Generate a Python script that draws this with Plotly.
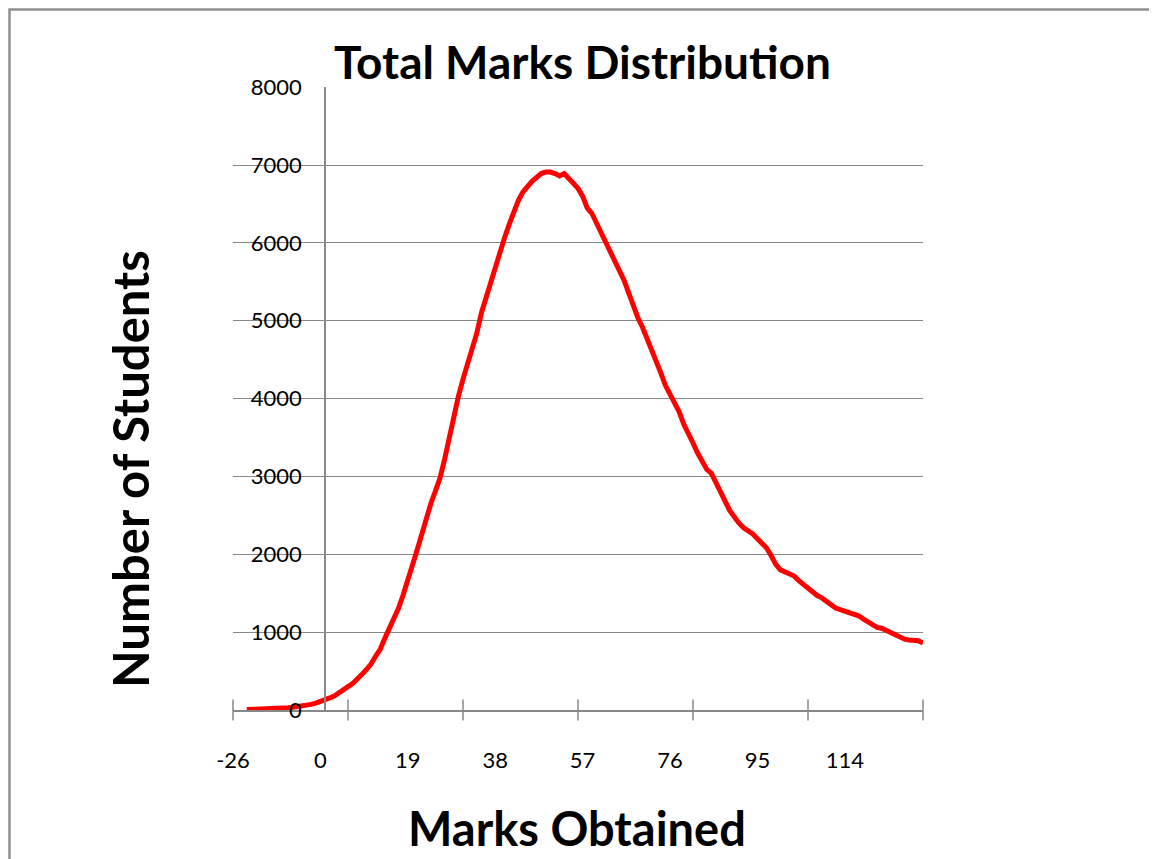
import plotly.graph_objects as go

# Category labels (Excel category axis): 19 negative marks then 0..131
neg_marks = [-26, -23, -22, -20, -18, -16, -14, -12, -11, -10, -9, -8, -7, -6, -5, -4, -3, -2, -1]
pos_marks = list(range(0, 132))
marks = [str(m) for m in neg_marks + pos_marks]

students = [
    None, None, None, 5, 6, 8, 10, 12, 15, 18,
    22, 26, 30, 36, 42, 50, 60, 72, 88, 105,
    130, 155, 180, 215, 255, 300, 340, 390, 455, 520,
    590, 690, 780, 920, 1040, 1180, 1310, 1480, 1650, 1860,
    2050, 2270, 2470, 2650, 2810, 2980, 3220, 3500, 3780, 4030,
    4250, 4440, 4620, 4840, 5100, 5300, 5500, 5680, 5880, 6060,
    6230, 6390, 6540, 6650, 6730, 6790, 6840, 6890, 6910, 6910,
    6890, 6860, 6890, 6830, 6780, 6700, 6600, 6450, 6380, 6260,
    6130, 6000, 5900, 5750, 5640, 5520, 5360, 5180, 5040, 4920,
    4780, 4650, 4490, 4330, 4170, 4050, 3940, 3830, 3670, 3530,
    3430, 3300, 3200, 3090, 3040, 2930, 2820, 2680, 2560, 2470,
    2400, 2340, 2300, 2260, 2200, 2140, 2080, 1980, 1870, 1800,
    1770, 1750, 1720, 1660, 1610, 1560, 1510, 1470, 1440, 1400,
    1350, 1310, 1290, 1270, 1260, 1240, 1210, 1170, 1130, 1090,
    1060, 1050, 1020, 990, 970, 940, 910, 900, 900, 890,
    860,
]

label_every = 19
tick_every = 25
y_ticks = [0, 1000, 2000, 3000, 4000, 5000, 6000, 7000, 8000]
y_cross_index = 20

title_text = "Total Marks Distribution"
x_title = "Marks Obtained"
y_title = "Number of Students"

OFF = 8  # page body margin
W, H = 1157 - OFF, 859 - OFF
L, R, T, B = 233 - OFF, 234, 87 - OFF, 149
pw = W - L - R
ph = H - T - B

def px_x(px):
    return (px - OFF - L) / pw

def px_y(py):
    return (H - B - (py - OFF)) / ph

FONT = "Lato, 'Open Sans', sans-serif"
GRID = "#888888"

fig = go.Figure()
fig.add_trace(go.Scatter(
    x=marks, y=students, mode="lines",
    line=dict(color="#ff0000", width=5),
    connectgaps=False, showlegend=False, hoverinfo="x+y",
))
# crossing tick marks on the category axis
fig.add_trace(go.Scatter(
    x=marks[::tick_every], y=[0] * len(marks[::tick_every]),
    mode="markers",
    marker=dict(symbol="line-ns", size=15, line=dict(color=GRID, width=1.5), color=GRID),
    cliponaxis=False, showlegend=False, hoverinfo="skip",
))

n = len(marks)
fig.update_layout(
    width=W, height=H,
    margin=dict(l=L, r=R, t=T, b=B, pad=0),
    paper_bgcolor="white", plot_bgcolor="white",
    font=dict(family=FONT, color="black", size=22),
    xaxis=dict(
        type="category",
        categoryorder="array", categoryarray=marks,
        range=[0, n - 1],
        tickmode="array",
        tickvals=marks[::label_every],
        ticktext=marks[::label_every],
        ticks="",
        ticklabelstandoff=30,
        showgrid=False, zeroline=False,
        showline=True, linecolor=GRID, linewidth=1.5,
        tickfont=dict(family=FONT, size=22, color="black"),
    ),
    yaxis=dict(
        range=[0, 8002],
        tickmode="array", tickvals=y_ticks,
        ticks="",
        anchor="free",
        position=y_cross_index / (n - 1),
        ticklabelstandoff=18,
        showgrid=True, gridcolor=GRID, gridwidth=1,
        zeroline=False,
        showline=True, linecolor=GRID, linewidth=1.5,
        tickfont=dict(family=FONT, size=22, color="black"),
    ),
    annotations=[
        dict(text=f"<b>{title_text}</b>", xref="paper", yref="paper",
             x=px_x(582), y=px_y(62), xanchor="center", yanchor="middle",
             showarrow=False, font=dict(family=FONT, size=46, color="black")),
        dict(text=f"<b>{x_title}</b>", xref="paper", yref="paper",
             x=px_x(577), y=px_y(828), xanchor="center", yanchor="middle",
             showarrow=False, font=dict(family=FONT, size=47, color="black")),
        dict(text=f"<b>{y_title}</b>", xref="paper", yref="paper",
             x=px_x(130), y=px_y(469), xanchor="center", yanchor="middle",
             textangle=-90,
             showarrow=False, font=dict(family=FONT, size=49, color="black")),
    ],
    shapes=[
        dict(type="rect", xref="paper", yref="paper",
             x0=px_x(9.5), x1=px_x(1175),
             y0=px_y(875), y1=px_y(9.5),
             line=dict(color="#909090", width=2.5), fillcolor="rgba(0,0,0,0)",
             layer="above"),
    ],
)

fig.write_html("out.html")
